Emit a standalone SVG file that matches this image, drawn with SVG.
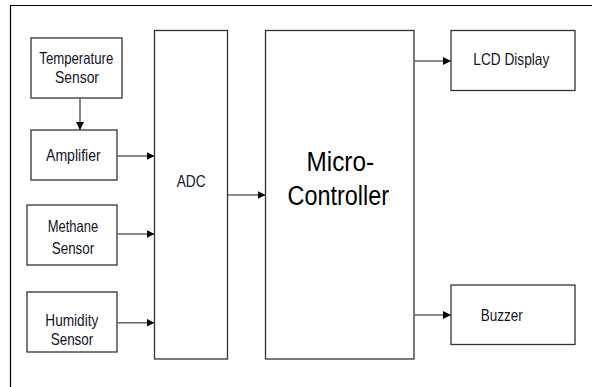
<svg xmlns="http://www.w3.org/2000/svg" width="592" height="387" viewBox="0 0 592 387">
<defs>
<style>
.box{fill:#fff;stroke:#333;stroke-width:1.3}
.t{font-family:"Liberation Sans",Arial,sans-serif;font-size:16.5px;fill:#141428}
.big{font-family:"Liberation Sans",Arial,sans-serif;font-size:27px;fill:#000}
.c{stroke:#666;stroke-width:1.6;fill:none;marker-end:url(#ah)}
</style>
<marker id="ah" viewBox="0 0 10 10" refX="10" refY="5" markerWidth="8" markerHeight="8" markerUnits="userSpaceOnUse" orient="auto">
<path d="M0,0 L10,5 L0,10 z" fill="#000"/>
</marker>
</defs>
<rect width="592" height="387" fill="#fff"/>
<path d="M10.5,387 V5.5 H592" fill="none" stroke="#000" stroke-width="1.2"/>
<g id="temp"><rect class="box" x="31" y="38" width="91" height="60"/>
<text class="t" x="39.3" y="64" textLength="74" lengthAdjust="spacingAndGlyphs">Temperature</text>
<text class="t" x="55" y="83.3" textLength="44" lengthAdjust="spacingAndGlyphs">Sensor</text></g>
<g id="amp"><rect class="box" x="31" y="130" width="86" height="50"/>
<text class="t" x="46" y="160.7" textLength="54.7" lengthAdjust="spacingAndGlyphs">Amplifier</text></g>
<g id="methane"><rect class="box" x="27" y="205" width="90" height="60"/>
<text class="t" x="47.7" y="232.3" textLength="50.6" lengthAdjust="spacingAndGlyphs">Methane</text>
<text class="t" x="51.7" y="254" textLength="42.6" lengthAdjust="spacingAndGlyphs">Sensor</text></g>
<g id="humidity"><rect class="box" x="27" y="292" width="90" height="60"/>
<text class="t" x="45.3" y="325.7" textLength="53" lengthAdjust="spacingAndGlyphs">Humidity</text>
<text class="t" x="50.7" y="345.3" textLength="42.6" lengthAdjust="spacingAndGlyphs">Sensor</text></g>
<g id="adc"><rect class="box" x="154.5" y="30.5" width="73" height="328.5"/>
<text class="t" x="176.7" y="187.3" textLength="29" lengthAdjust="spacingAndGlyphs">ADC</text></g>
<g id="mcu"><rect class="box" x="265.5" y="30.5" width="148.5" height="328.5"/>
<text class="big" x="306.5" y="170.5" textLength="67.5" lengthAdjust="spacingAndGlyphs">Micro-</text>
<text class="big" x="287.5" y="204.5" textLength="101.5" lengthAdjust="spacingAndGlyphs">Controller</text></g>
<g id="lcd"><rect class="box" x="451" y="30.5" width="124" height="60"/>
<text class="t" x="473.3" y="65.3" textLength="76" lengthAdjust="spacingAndGlyphs">LCD Display</text></g>
<g id="buzzer"><rect class="box" x="451" y="285" width="124" height="59.5"/>
<text class="t" x="480.7" y="320.7" textLength="42" lengthAdjust="spacingAndGlyphs">Buzzer</text></g>
<g id="connectors">
<line class="c" x1="80" y1="98" x2="80" y2="130"/>
<line class="c" x1="117.5" y1="156" x2="154.5" y2="156"/>
<line class="c" x1="117.5" y1="234" x2="154.5" y2="234"/>
<line class="c" x1="117.5" y1="322.7" x2="154.5" y2="322.7"/>
<line class="c" x1="228" y1="195" x2="265.5" y2="195"/>
<line class="c" x1="414" y1="61" x2="451" y2="61"/>
<line class="c" x1="414" y1="315" x2="451" y2="315"/>
</g>
</svg>
